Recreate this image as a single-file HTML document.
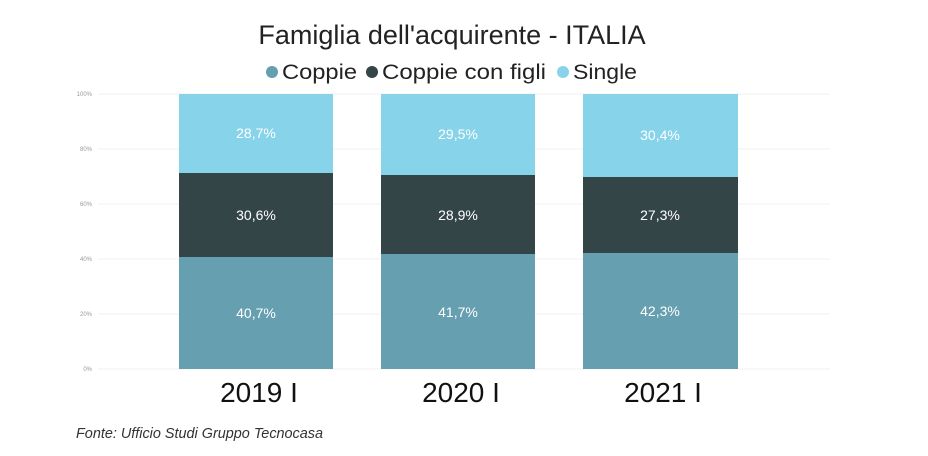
<!DOCTYPE html>
<html><head><meta charset="utf-8"><style>
body{margin:0;background:#fff;width:928px;height:451px;overflow:hidden;font-family:"Liberation Sans",sans-serif}
</style></head><body>
<svg width="928" height="451" xmlns="http://www.w3.org/2000/svg" font-family="Liberation Sans, sans-serif">
<text x="452" y="44" font-size="27" text-anchor="middle" fill="#222">Famiglia dell'acquirente - ITALIA</text>
<g font-size="21" fill="#222">
<circle cx="272" cy="72" r="6" fill="#659FB0"/><text x="282" y="79" textLength="75" lengthAdjust="spacingAndGlyphs">Coppie</text>
<circle cx="372" cy="72" r="6" fill="#344548"/><text x="382" y="79" textLength="164" lengthAdjust="spacingAndGlyphs">Coppie con figli</text>
<circle cx="563" cy="72" r="6" fill="#87D3EA"/><text x="573" y="79" textLength="64" lengthAdjust="spacingAndGlyphs">Single</text>
</g>
<g stroke="#f0f0f0" stroke-width="1">
<line x1="98" x2="830" y1="94" y2="94"/><line x1="98" x2="830" y1="149" y2="149"/>
<line x1="98" x2="830" y1="204" y2="204"/><line x1="98" x2="830" y1="259" y2="259"/>
<line x1="98" x2="830" y1="314" y2="314"/><line x1="98" x2="830" y1="369" y2="369"/>
</g>
<g font-size="6" fill="#999" text-anchor="end">
<text x="92" y="96">100%</text><text x="92" y="151">80%</text><text x="92" y="206">60%</text>
<text x="92" y="261">40%</text><text x="92" y="316">20%</text><text x="92" y="371">0%</text>
</g>
<rect x="179" y="257" width="154" height="112" fill="#659FB0"/>
<rect x="179" y="173" width="154" height="84" fill="#344548"/>
<rect x="179" y="94" width="154" height="79" fill="#87D3EA"/>
<rect x="381" y="254" width="154" height="115" fill="#659FB0"/>
<rect x="381" y="175" width="154" height="79" fill="#344548"/>
<rect x="381" y="94" width="154" height="81" fill="#87D3EA"/>
<rect x="583" y="253" width="155" height="116" fill="#659FB0"/>
<rect x="583" y="177" width="155" height="76" fill="#344548"/>
<rect x="583" y="94" width="155" height="83" fill="#87D3EA"/>
<g font-size="14" fill="#fff" text-anchor="middle">
<text x="256" y="138">28,7%</text><text x="256" y="220">30,6%</text><text x="256" y="318">40,7%</text>
<text x="458" y="139">29,5%</text><text x="458" y="220">28,9%</text><text x="458" y="317">41,7%</text>
<text x="660" y="140">30,4%</text><text x="660" y="220">27,3%</text><text x="660" y="316">42,3%</text>
</g>
<g font-size="28" fill="#111" text-anchor="middle">
<text x="259" y="402">2019 I</text><text x="461" y="402">2020 I</text><text x="663" y="402">2021 I</text>
</g>
<text x="76" y="438" font-size="15" font-style="italic" fill="#333" textLength="247" lengthAdjust="spacingAndGlyphs">Fonte: Ufficio Studi Gruppo Tecnocasa</text>
</svg>
</body></html>
